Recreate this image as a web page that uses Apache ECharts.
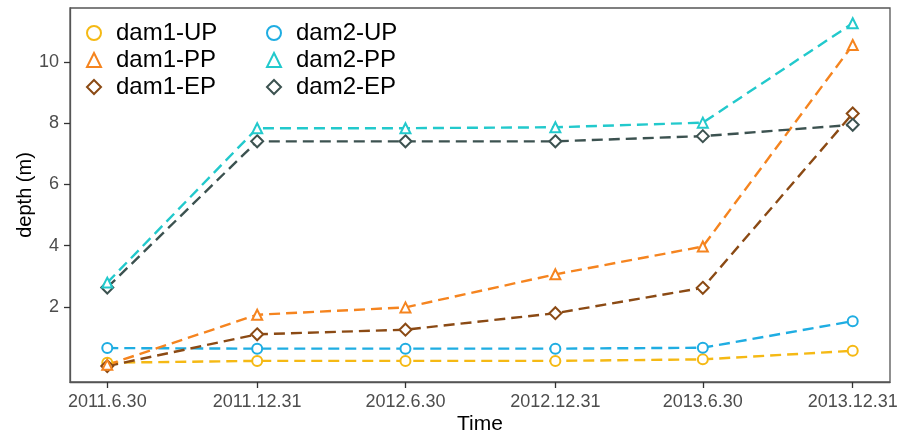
<!DOCTYPE html>
<html><head><meta charset="utf-8">
<script src="https://cdn.jsdelivr.net/npm/echarts@6/dist/echarts.min.js"></script>
<style>html,body{margin:0;padding:0;background:#fff}#c{width:900px;height:434px}</style>
</head><body><div id="c"></div>
<script>
const tickLabels = ['2011.6.30','2011.12.31','2012.6.30','2012.12.31','2013.6.30','2013.12.31'];
const dates = ['2011-06-30','2011-12-31','2012-06-30','2012-12-31','2013-06-30','2013-12-31'];
const dam1UP = [0.17, 0.23, 0.23, 0.23, 0.28, 0.56];
const dam1PP = [0.10, 1.74, 1.98, 3.06, 3.97, 10.56];
const dam1EP = [0.06, 1.10, 1.25, 1.79, 2.62, 8.32];
const dam2UP = [0.65, 0.63, 0.63, 0.63, 0.66, 1.53];
const dam2PP = [2.79, 7.84, 7.84, 7.87, 8.02, 11.27];
const dam2EP = [2.63, 7.41, 7.41, 7.41, 7.58, 7.95];
const yTicks = [2, 4, 6, 8, 10];

const base = Date.parse(dates[0]);
const xs = dates.map(d => (Date.parse(d) - base) / 86400000);
const span = xs[xs.length - 1] - xs[0];
const pad = span * 0.05;

function mk(name, vals, color, symbol) {
  return {
    name, type: 'line', data: vals.map((v, i) => [xs[i], v]),
    symbol, symbolSize: symbol === 'emptyDiamond' ? 12 : 10,
    lineStyle: { color, width: 2.4, type: [11, 6] },
    itemStyle: { color, borderColor: color, borderWidth: 1.5 },
    emphasis: { disabled: true }, z: 3
  };
}
const cols = {
  'dam1-UP': '#F5B914', 'dam1-PP': '#F5841F', 'dam1-EP': '#8B4A14',
  'dam2-UP': '#1FADE2', 'dam2-PP': '#22C9CC', 'dam2-EP': '#3C5250'
};
const series = [
  mk('dam1-UP', dam1UP, cols['dam1-UP'], 'emptyCircle'),
  mk('dam2-UP', dam2UP, cols['dam2-UP'], 'emptyCircle'),
  mk('dam1-EP', dam1EP, cols['dam1-EP'], 'emptyDiamond'),
  mk('dam1-PP', dam1PP, cols['dam1-PP'], 'emptyTriangle'),
  mk('dam2-EP', dam2EP, cols['dam2-EP'], 'emptyDiamond'),
  mk('dam2-PP', dam2PP, cols['dam2-PP'], 'emptyTriangle')
];
const legBase = {
  orient: 'vertical', itemWidth: 14, itemHeight: 14, itemGap: 3,
  textStyle: { fontSize: 24, lineHeight: 24, color: '#000', fontFamily: 'Liberation Sans', padding: [0, 0, 0, 10] },
  itemStyle: { borderWidth: 1.5 }, selectedMode: false, padding: 0
};
const chart = echarts.init(document.getElementById('c'), null, { renderer: 'canvas' });
chart.setOption({
  animation: false,
  backgroundColor: '#fff',
  textStyle: { fontFamily: 'Liberation Sans' },
  grid: { left: 70, right: 10, top: 8, bottom: 52, show: true, borderColor: '#555', borderWidth: 1.3,
    containLabel: false, outerBoundsMode: 'none' },
  legend: [
    Object.assign({}, legBase, { left: 86, top: 21, data: [
      { name: 'dam1-UP', icon: 'emptyCircle' }, { name: 'dam1-PP', icon: 'emptyTriangle' }, { name: 'dam1-EP', icon: 'emptyDiamond' }] }),
    Object.assign({}, legBase, { left: 266, top: 21, data: [
      { name: 'dam2-UP', icon: 'emptyCircle' }, { name: 'dam2-PP', icon: 'emptyTriangle' }, { name: 'dam2-EP', icon: 'emptyDiamond' }] })
  ],
  xAxis: {
    type: 'value', min: xs[0] - pad, max: xs[xs.length - 1] + pad,
    name: 'Time', nameLocation: 'middle', nameGap: 32, nameMoveOverlap: false,
    nameTextStyle: { fontSize: 21, color: '#000' },
    axisLine: { show: true, onZero: false, lineStyle: { color: '#555', width: 1.3 } },
    axisTick: { show: true, length: 6, customValues: xs, lineStyle: { color: '#333', width: 1.3 } },
    axisLabel: { customValues: xs, fontSize: 18, color: '#4D4D4D', margin: 11,
      formatter: v => { const i = xs.findIndex(x => Math.abs(x - v) < 0.5); return i >= 0 ? tickLabels[i] : ''; } },
    splitLine: { show: false }
  },
  yAxis: {
    type: 'value', min: -0.46, max: 11.77,
    name: 'depth (m)', nameLocation: 'middle', nameGap: 35, nameMoveOverlap: false,
    nameTextStyle: { fontSize: 20, color: '#000' },
    axisLine: { show: true, onZero: false, lineStyle: { color: '#555', width: 1.3 } },
    axisTick: { show: true, length: 6, customValues: yTicks, lineStyle: { color: '#333', width: 1.3 } },
    axisLabel: { customValues: yTicks, fontSize: 18, color: '#4D4D4D', margin: 11 },
    splitLine: { show: false }
  },
  series
});
</script></body></html>
